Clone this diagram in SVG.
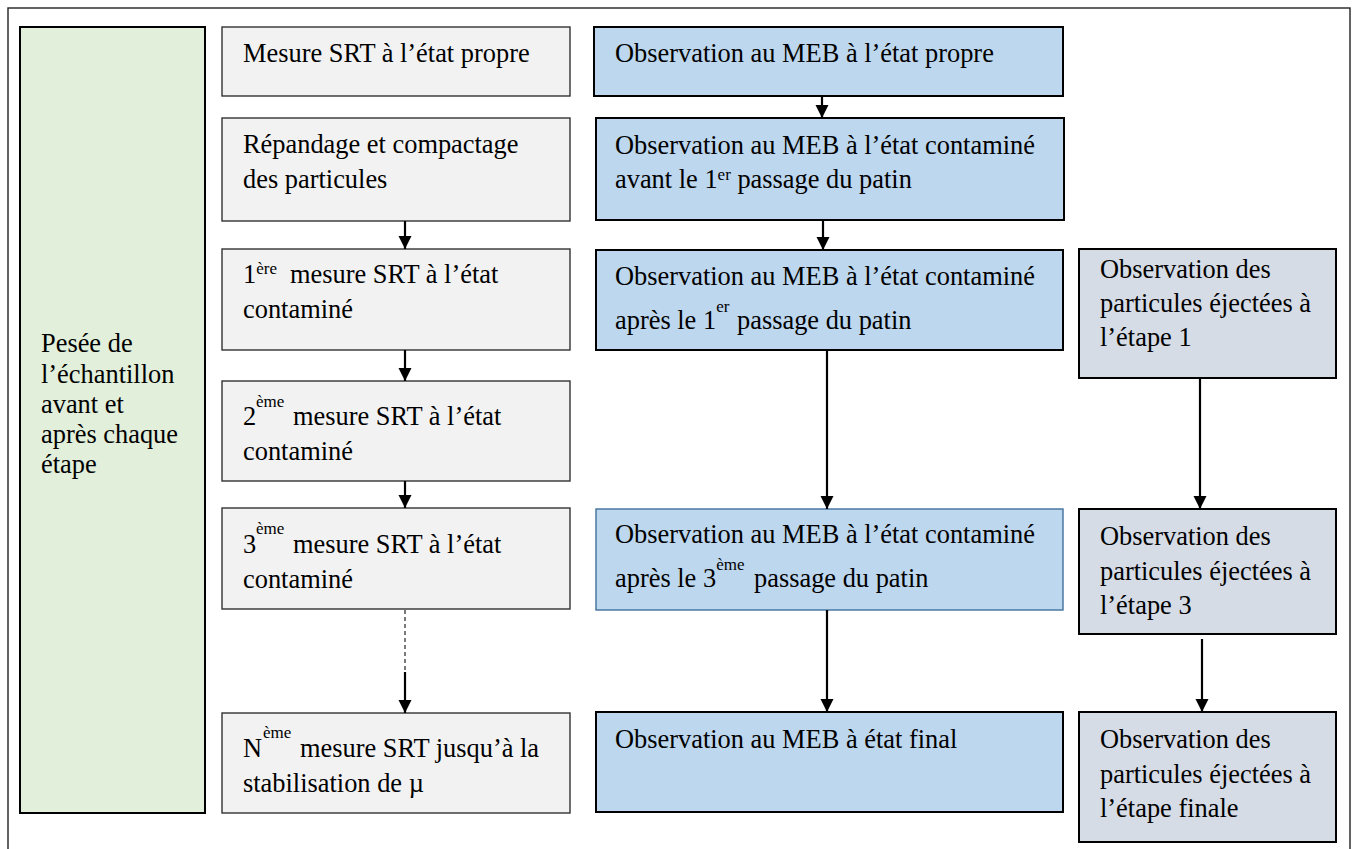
<svg xmlns="http://www.w3.org/2000/svg" width="1357" height="849" viewBox="0 0 1357 849">
<style>
text{font-family:"Liberation Serif","Times New Roman",serif;font-size:26.4px;fill:#000}
.sup{font-size:17px}
.frame{fill:#fff;stroke:#222;stroke-width:1.4}
.green{fill:#E2EFDA;stroke:#000;stroke-width:2}
.gray{fill:#F2F2F2;stroke:#333;stroke-width:1.4}
.blue{fill:#BDD7EE;stroke:#000;stroke-width:2}
.blue2{fill:#BDD7EE;stroke:#41719C;stroke-width:1.4}
.slate{fill:#D6DCE5;stroke:#000;stroke-width:2}
.arr{stroke:#000;stroke-width:2.2;fill:none}
.dash{stroke:#333;stroke-width:1.3;stroke-dasharray:4 3;fill:none}
</style>
<defs>
<marker id="ah" markerUnits="userSpaceOnUse" markerWidth="14" markerHeight="14" refX="13" refY="6.5" orient="auto">
<path d="M0,0 L13,6.5 L0,13 Z" fill="#000"/>
</marker>
</defs>
<rect width="1357" height="849" fill="#fff"/>
<rect class="frame" x="8" y="8" width="1342" height="860"/>

<g id="n-pesee">
<rect class="green" x="20" y="27" width="185" height="786"/>
<text x="41" y="352">Pesée de</text>
<text x="41" y="383">l’échantillon</text>
<text x="41" y="413">avant et</text>
<text x="41" y="443">après chaque</text>
<text x="41" y="473">étape</text>
</g>

<g id="n-srt-propre">
<rect class="gray" x="222" y="27" width="348" height="69"/>
<text x="243" y="62">Mesure SRT à l’état propre</text>
</g>
<g id="n-repandage">
<rect class="gray" x="222" y="118" width="348" height="103"/>
<text x="243" y="153">Répandage et compactage</text>
<text x="243" y="188">des particules</text>
</g>
<g id="n-srt1">
<rect class="gray" x="222" y="249" width="348" height="101"/>
<text x="243" y="283">1<tspan class="sup" dy="-9">ère</tspan><tspan x="290" dy="9">mesure SRT à l’état</tspan></text>
<text x="243" y="318">contaminé</text>
</g>
<g id="n-srt2">
<rect class="gray" x="222" y="381" width="348" height="100"/>
<text x="243" y="425">2<tspan class="sup" x="256" dy="-18">ème</tspan><tspan x="293" dy="18">mesure SRT à l’état</tspan></text>
<text x="243" y="460">contaminé</text>
</g>
<g id="n-srt3">
<rect class="gray" x="222" y="508" width="348" height="101"/>
<text x="243" y="553">3<tspan class="sup" x="256" dy="-19">ème</tspan><tspan x="293" dy="19">mesure SRT à l’état</tspan></text>
<text x="243" y="588">contaminé</text>
</g>
<g id="n-srtN">
<rect class="gray" x="222" y="713" width="348" height="100"/>
<text x="243" y="757">N<tspan class="sup" x="263" dy="-19">ème</tspan><tspan x="300" dy="19">mesure SRT jusqu’à la</tspan></text>
<text x="243" y="792">stabilisation de µ</text>
</g>

<g id="n-meb-propre">
<rect class="blue" x="594" y="27" width="469" height="69"/>
<text x="615" y="62">Observation au MEB à l’état propre</text>
</g>
<g id="n-meb-avant">
<rect class="blue" x="596" y="118" width="468" height="102"/>
<text x="615" y="154">Observation au MEB à l’état contaminé</text>
<text x="615" y="188">avant le 1<tspan class="sup" dy="-8">er</tspan><tspan dy="8"> passage du patin</tspan></text>
</g>
<g id="n-meb-apres1">
<rect class="blue" x="596" y="250" width="467" height="100"/>
<text x="615" y="285">Observation au MEB à l’état contaminé</text>
<text x="615" y="329">après le 1<tspan class="sup" dy="-17">er</tspan><tspan x="737" dy="17">passage du patin</tspan></text>
</g>
<g id="n-meb-apres3">
<rect class="blue2" x="596" y="509" width="467" height="101"/>
<text x="615" y="543">Observation au MEB à l’état contaminé</text>
<text x="615" y="587">après le 3<tspan class="sup" dy="-17">ème</tspan><tspan x="754" dy="17">passage du patin</tspan></text>
</g>
<g id="n-meb-final">
<rect class="blue" x="596" y="712" width="467" height="100"/>
<text x="615" y="748">Observation au MEB à état final</text>
</g>

<g id="n-part1">
<rect class="slate" x="1079" y="249" width="257" height="129"/>
<text x="1100" y="278">Observation des</text>
<text x="1100" y="312">particules éjectées à</text>
<text x="1100" y="346">l’étape 1</text>
</g>
<g id="n-part3">
<rect class="slate" x="1079" y="509" width="257" height="125"/>
<text x="1100" y="545">Observation des</text>
<text x="1100" y="580">particules éjectées à</text>
<text x="1100" y="614">l’étape 3</text>
</g>
<g id="n-partF">
<rect class="slate" x="1079" y="712" width="257" height="130"/>
<text x="1100" y="748">Observation des</text>
<text x="1100" y="783">particules éjectées à</text>
<text x="1100" y="817">l’étape finale</text>
</g>

<g id="connectors">
<line class="arr" x1="405" y1="221" x2="405" y2="249" marker-end="url(#ah)"/>
<line class="arr" x1="405" y1="350" x2="405" y2="381" marker-end="url(#ah)"/>
<line class="arr" x1="405" y1="481" x2="405" y2="508" marker-end="url(#ah)"/>
<line class="dash" x1="405" y1="610" x2="405" y2="672"/>
<line class="arr" x1="405" y1="672" x2="405" y2="713" marker-end="url(#ah)"/>
<line class="arr" x1="822" y1="96" x2="822" y2="118" marker-end="url(#ah)"/>
<line class="arr" x1="823" y1="220" x2="823" y2="250" marker-end="url(#ah)"/>
<line class="arr" x1="827" y1="350" x2="827" y2="509" marker-end="url(#ah)"/>
<line class="arr" x1="827" y1="610" x2="827" y2="712" marker-end="url(#ah)"/>
<line class="arr" x1="1200" y1="378" x2="1200" y2="509" marker-end="url(#ah)"/>
<line class="arr" x1="1202" y1="639" x2="1202" y2="712" marker-end="url(#ah)"/>
</g>
</svg>
